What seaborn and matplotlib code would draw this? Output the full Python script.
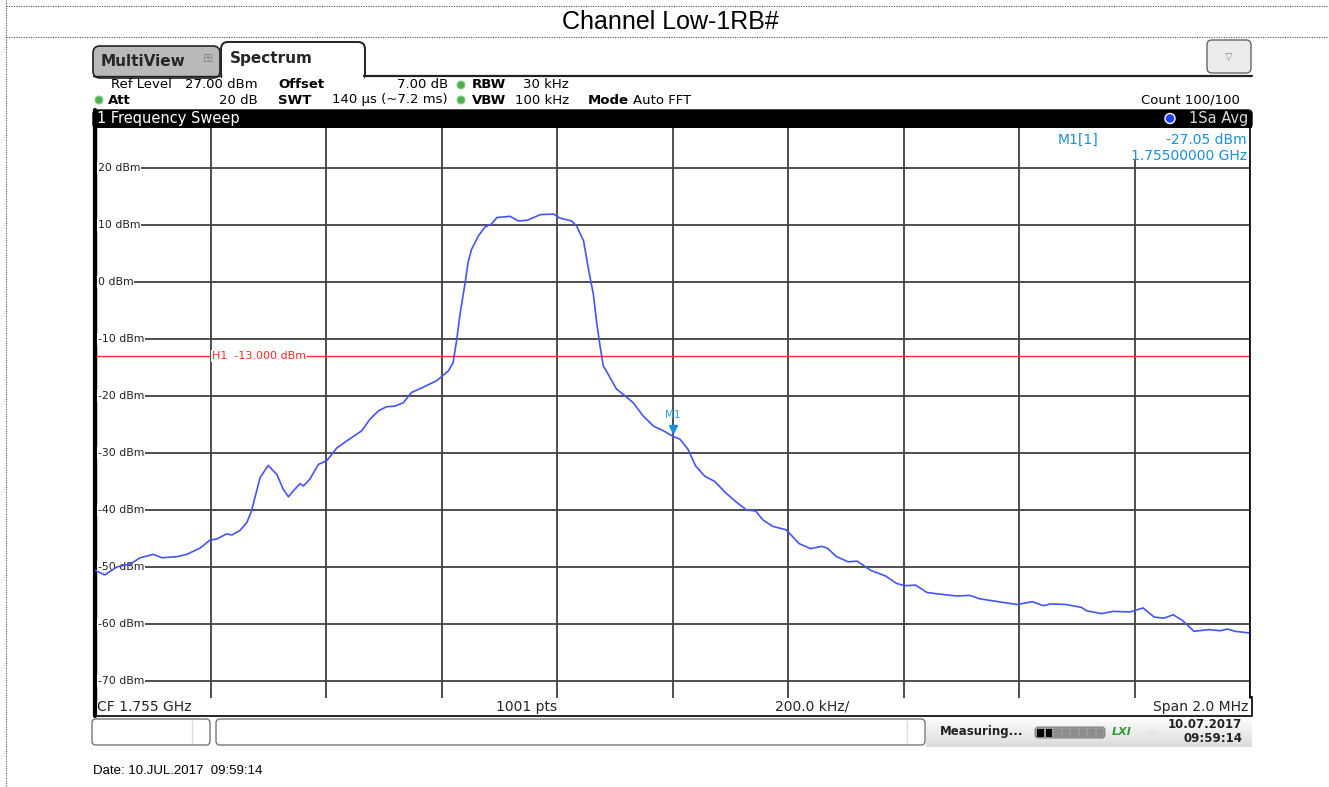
import numpy as np
import matplotlib
matplotlib.use("Agg")
import matplotlib.pyplot as plt
import seaborn as sns
from matplotlib.patches import FancyBboxPatch, Rectangle, Circle
import matplotlib.transforms as mtransforms

# ---------------- data ----------------
freq_khz = [-1000, -983, -962, -939, -922, -899, -884, -858, -841, -818, -801, -789,
            -772, -763, -749, -737, -729, -723, -714, -700, -685, -674, -665, -657,
            -645, -639, -628, -613, -599, -581, -564, -538, -524, -509, -495, -481,
            -466, -452, -432, -408, -388, -380, -374, -368, -359, -354, -348, -336,
            -325, -313, -304, -281, -267, -252, -229, -206, -195, -175, -166, -154,
            -146, -137, -131, -126, -120, -108, -97, -82, -68, -51, -33, -16, 0, 13,
            27, 40, 56, 73, 92, 109, 128, 144, 157, 174, 197, 219, 239, 258, 268, 284,
            304, 320, 343, 369, 388, 402, 421, 441, 473, 493, 515, 532, 564, 597, 623,
            642, 655, 681, 708, 717, 743, 763, 792, 815, 834, 851, 867, 883, 903, 929,
            948, 961, 974, 1000]
level_dbm = [-50.6, -51.4, -50.0, -49.5, -48.4, -47.8, -48.4, -48.2, -47.8, -46.7, -45.3, -45.1,
             -44.2, -44.4, -43.6, -42.2, -40.2, -37.8, -34.3, -32.2, -33.8, -36.4, -37.7, -36.7,
             -35.4, -35.8, -34.6, -32.0, -31.4, -29.1, -27.9, -26.1, -24.1, -22.6, -21.9, -21.8,
             -21.2, -19.4, -18.5, -17.3, -15.6, -14.2, -10.4, -5.7, -0.1, 3.4, 5.7, 8.1,
             9.6, 10.2, 11.3, 11.5, 10.7, 10.8, 11.8, 11.9, 11.2, 10.7, 9.8, 7.2,
             2.5, -2.2, -7.4, -10.9, -14.7, -16.8, -18.8, -20.0, -21.2, -23.5, -25.3, -26.1, -27.05, -27.6,
             -29.4, -32.3, -34.1, -35.0, -37.0, -38.5, -40.0, -40.2, -41.8, -42.9, -43.5, -45.9, -46.8, -46.4, -46.7, -48.2,
             -49.1, -49.0, -50.6, -51.6, -52.9, -53.3, -53.2, -54.5, -54.9, -55.1, -55.0, -55.6, -56.1, -56.6, -56.1,
             -56.8, -56.5, -56.6, -57.1, -57.7, -58.2, -57.8, -57.9, -57.2, -58.8, -59.0, -58.4, -59.4, -61.3, -61.0,
             -61.2, -60.9, -61.3, -61.6]
y_ticks = [20, 10, 0, -10, -20, -30, -40, -50, -60, -70]
y_tick_labels = ["20 dBm", "10 dBm", "0 dBm", "-10 dBm", "-20 dBm", "-30 dBm",
                 "-40 dBm", "-50 dBm", "-60 dBm", "-70 dBm"]
x_ticks = [-1000, -800, -600, -400, -200, 0, 200, 400, 600, 800, 1000]
ref_level = 27.0
bottom_level = -73.0
h1_level = -13.0
marker_freq = 0
marker_level = -27.05

title_text = "Channel Low-1RB#"

# ---------------- style ----------------
sns.set_theme(style="white")
plt.rcParams["font.family"] = ["DejaVu Sans"]

W, H = 1329, 787
fig = plt.figure(figsize=(W / 100, H / 100), dpi=100)
fig.patch.set_facecolor("white")

# overlay axes in pixel coordinates (y downward)
ov = fig.add_axes([0, 0, 1, 1], zorder=0)
ov.set_xlim(0, W)
ov.set_ylim(H, 0)
ov.axis("off")

INST = "DejaVu Sans"

# dotted frame lines
dot = dict(color="#555555", lw=0.8, linestyle=(0, (1, 1.2)))
ov.plot([6, W], [6, 6], **dot)
ov.plot([6, W], [37, 37], **dot)
ov.plot([6, 6], [0, H], **dot)

ov.text(670, 22, title_text, ha="center", va="center", fontsize=18,
        family="Liberation Sans", color="black")

# tabs
ov.add_patch(FancyBboxPatch((93, 46), 127, 32, boxstyle="round,pad=0,rounding_size=7",
                            fc="#b9b9b9", ec="#222222", lw=1.2))
ov.add_patch(FancyBboxPatch((221, 42), 144, 38, boxstyle="round,pad=0,rounding_size=7",
                            fc="white", ec="#222222", lw=1.4))
ov.add_patch(Rectangle((222, 76), 142, 6, fc="white", ec="none"))
ov.plot([364, 1252], [75.5, 75.5], color="#222222", lw=1.6)
ov.plot([93, 221], [75.5, 75.5], color="#222222", lw=1.0)
ov.text(101, 61, "MultiView", ha="left", va="center", fontsize=11, fontweight="bold", family=INST)
ov.text(208, 59, "\u229e", ha="center", va="center", fontsize=9, color="#8a8a8a", family=INST)
ov.text(230, 58, "Spectrum", ha="left", va="center", fontsize=11, fontweight="bold", family=INST)
ov.add_patch(FancyBboxPatch((1207, 40), 44, 33, boxstyle="round,pad=0,rounding_size=5",
                            fc="#ececec", ec="#666666", lw=1.0))
ov.text(1229, 57, "\u25bd", ha="center", va="center", fontsize=7, color="#888888", family=INST)

# info rows
fs_info = 9.5
r1, r2 = 85, 100
def t(x, y, s, ha="left", bold=False, color="black", fs=fs_info):
    ov.text(x, y, s, ha=ha, va="center", fontsize=fs, family=INST,
            fontweight="bold" if bold else "normal", color=color)
t(111, r1, "Ref Level", bold=False)
t(258, r1, "27.00 dBm", ha="right")
t(278, r1, "Offset", bold=True)
t(448, r1, "7.00 dB", ha="right")
t(472, r1, "RBW", bold=True)
t(569, r1, "30 kHz", ha="right")
t(108, r2, "Att", bold=True)
t(258, r2, "20 dB", ha="right")
t(278, r2, "SWT", bold=True)
t(448, r2, "140 \u00b5s (~7.2 ms)", ha="right")
t(472, r2, "VBW", bold=True)
t(569, r2, "100 kHz", ha="right")
t(588, r2, "Mode", bold=True)
t(633, r2, "Auto FFT")
t(1240, r2, "Count 100/100", ha="right")
for (cx, cy) in [(99, r2), (461, r1), (461, r2)]:
    ov.add_patch(Circle((cx, cy), 4, fc="#4cae4c", ec="#8fd08f", lw=0.8))

# display frame and header bar
ov.add_patch(FancyBboxPatch((93, 110), 1159, 18, boxstyle="round,pad=0,rounding_size=4",
                            fc="black", ec="black", lw=1))
ov.add_patch(Rectangle((93, 120), 1159, 8, fc="black", ec="none"))
ov.text(97, 119, "1 Frequency Sweep", ha="left", va="center", fontsize=10.5,
        color="white", family=INST)
ov.add_patch(Circle((1170, 118.5), 5, fc="#2040ff", ec="white", lw=1))
ov.text(1248, 119, "1Sa Avg", ha="right", va="center", fontsize=10.5, color="#d8d8d8",
        family=INST)

# bottom info bar
ov.add_patch(Rectangle((93.5, 697), 1158, 19, fc="white", ec="black", lw=1.2))
ov.plot([94.5, 94.5], [110, 716], color="black", lw=3)
ov.text(97, 707, "CF 1.755 GHz", ha="left", va="center", fontsize=10, family=INST)
ov.text(527, 707, "1001 pts", ha="center", va="center", fontsize=10, family=INST)
ov.text(812, 707, "200.0 kHz/", ha="center", va="center", fontsize=10, family=INST)
ov.text(1248, 707, "Span 2.0 MHz", ha="right", va="center", fontsize=10, family=INST)

# status bar
ov.add_patch(FancyBboxPatch((92, 719), 118, 26, boxstyle="round,pad=0,rounding_size=4",
                            fc="white", ec="#777777", lw=1))
ov.plot([192, 192], [721, 743], color="#dddddd", lw=1)
ov.add_patch(FancyBboxPatch((216, 719), 709, 26, boxstyle="round,pad=0,rounding_size=4",
                            fc="white", ec="#777777", lw=1))
ov.plot([907, 907], [721, 743], color="#dddddd", lw=1)
grad = np.linspace(1.0, 0.86, 30).reshape(-1, 1)
ov.imshow(np.dstack([grad, grad, grad]), extent=(926, 1252, 747, 716), aspect="auto",
          zorder=0.5)
ov.set_xlim(0, W)
ov.set_ylim(H, 0)
ov.text(940, 732, "Measuring...", ha="left", va="center", fontsize=8.5,
        fontweight="bold", family=INST, color="#222222")
ov.add_patch(FancyBboxPatch((1035, 727), 70, 11, boxstyle="round,pad=0,rounding_size=3",
                            fc="#9a9a9a", ec="#888888", lw=0.8))
for i in range(8):
    x0 = 1037 + i * 8.5
    ov.add_patch(Rectangle((x0, 728.5), 6.5, 8, fc="black" if i < 2 else "#8c8c8c",
                           ec="none"))
ov.text(1122, 732, "LXI", ha="center", va="center", fontsize=8, fontweight="bold",
        style="italic", color="#2f9a2f", family=INST)
ov.text(1151, 732, "REF", ha="center", va="center", fontsize=4.5, color="#dddddd",
        family=INST)
ov.text(1242, 725, "10.07.2017", ha="right", va="center", fontsize=8.5,
        fontweight="bold", family=INST, color="#222222")
ov.text(1242, 739, "09:59:14", ha="right", va="center", fontsize=8.5,
        fontweight="bold", family=INST, color="#222222")

ov.text(93, 771, "Date: 10.JUL.2017  09:59:14", ha="left", va="center", fontsize=9.5,
        family="Liberation Sans", color="black")

# ---------------- main diagram ----------------
ax = fig.add_axes([95 / W, 1 - 698 / H, 1155 / W, 570 / H], zorder=2)
ax.set_facecolor("white")
ax.set_xlim(x_ticks[0], x_ticks[-1])
ax.set_ylim(bottom_level, ref_level)
ax.set_xticks(x_ticks)
ax.set_yticks(y_ticks)
ax.set_xticklabels([])
ax.set_yticklabels([])
ax.tick_params(length=0)
ax.grid(True, color="#404040", lw=1.3, zorder=0)
ax.set_axisbelow(True)
for s in ["top", "right", "bottom"]:
    ax.spines[s].set_visible(False)
ax.spines["left"].set_color("black")
ax.spines["left"].set_linewidth(2.5)

blend = mtransforms.blended_transform_factory(ax.transAxes, ax.transData)
for v, lab in zip(y_ticks, y_tick_labels):
    ax.text(0.0026, v, lab, transform=blend, ha="left", va="center", fontsize=7.8,
            color="#222222", family=INST,
            bbox=dict(fc="white", ec="none", pad=0.6), zorder=3)

ax.axhline(h1_level, color="#ff2a2a", lw=1.0, zorder=2)
ax.text(-800 + 3, h1_level, "H1  -13.000 dBm", ha="left", va="center", fontsize=8,
        color="#ff2a2a", family=INST, bbox=dict(fc="white", ec="none", pad=0.6), zorder=3)

sns.lineplot(x=freq_khz, y=level_dbm, ax=ax, color="#4555f4", lw=1.2, zorder=4,
             estimator=None, sort=False)

ax.plot([marker_freq], [marker_level + 1.3], marker="v", ms=6, color="#1a8fe0",
        ls="none", zorder=5)
ax.text(marker_freq, marker_level + 3.7, "M1", ha="center", va="center", fontsize=7.5,
        color="#2fa0e6", family=INST, zorder=5)

# marker info
ax.add_patch(Rectangle((0.83, 0.945), 0.17, 0.055, transform=ax.transAxes,
                       fc="white", ec="none", zorder=3))
mc = "#1a90dd"
ax.text(0.8335, 0.979, "M1[1]", transform=ax.transAxes, ha="left", va="center",
        fontsize=10, color=mc, family=INST, zorder=4)
ax.text(0.9975, 0.979, "-27.05 dBm", transform=ax.transAxes, ha="right", va="center",
        fontsize=10, color=mc, family=INST, zorder=4)
ax.text(0.9975, 0.95, "1.75500000 GHz", transform=ax.transAxes, ha="right", va="center",
        fontsize=10, color=mc, family=INST, zorder=4)

ax.plot([1, 1], [0, 1], transform=ax.transAxes, color="black", lw=1.2, zorder=6,
        clip_on=False)

fig.savefig("out.png", dpi=100, facecolor="white")
